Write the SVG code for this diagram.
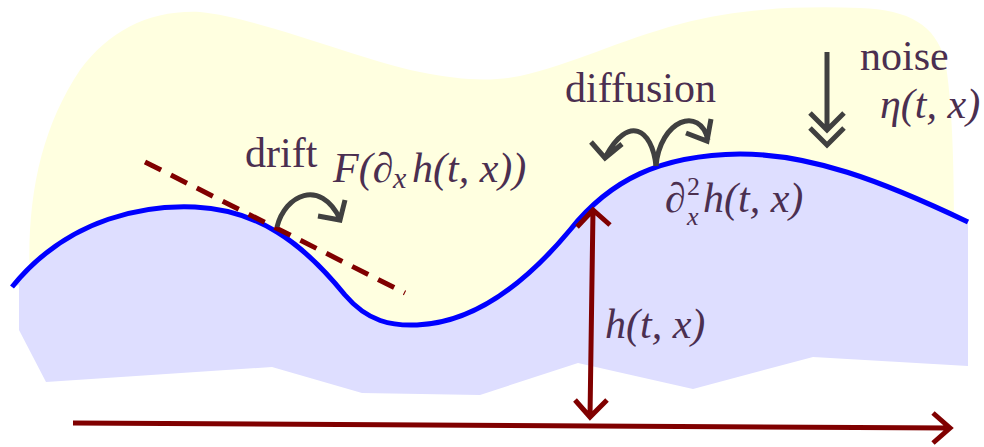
<svg xmlns="http://www.w3.org/2000/svg" width="984" height="447" viewBox="0 0 984 447">
<style>
.lbl{font-family:"Liberation Serif","DejaVu Serif",serif;font-size:42px;fill:#4b2f50}
.it{font-style:italic}
.gray{fill:none;stroke:#404040;stroke-width:5;stroke-linecap:butt;stroke-linejoin:miter}
.red{fill:none;stroke:#800000;stroke-width:5}
</style>
<rect width="984" height="447" fill="#ffffff"/>
<g id="background">
<path d="M30,285 C26,200 40,130 80,70 C110,30 150,10 200,12 C260,18 360,60 420,72 C460,80 490,82 520,76 C570,65 620,40 680,24 C740,8 800,6 860,8 C910,10 935,25 945,60 C952,100 954,160 954,230 L954,340 L30,340 Z" fill="#ffffe0"/>
<path d="M12,287 C70,215 150,205 195,207 C258,210 302,242 345,295 C368,322 392,326 417,325 C470,323 520,290 570,230 C610,180 660,155 740,154 C810,154 880,180 968,222 L968,366 L813,357 L693,389 L578,363 L480,395 L362,393 L272,367 L46,382 L19,330 L19,285 Z" fill="#dedeff"/>
</g>
<g id="surface">
<path d="M12,287 C70,215 150,205 195,207 C258,210 302,242 345,295 C368,322 392,326 417,325 C470,323 520,290 570,230 C610,180 660,155 740,154 C810,154 880,180 968,222" fill="none" stroke="#0000ff" stroke-width="5"/>
</g>
<g id="connectors">
<line id="tangent" x1="145" y1="162" x2="405" y2="293" stroke="#800000" stroke-width="5" stroke-dasharray="18,11"/>
<path id="drift-arrow" class="gray" d="M277,227 C285,195 320,178 340,219 M318,216 L340,220 L345,200"/>
<path id="diff-left" class="gray" d="M656,166 C652,128 628,115 606,156 M591,142 L605,158 L622,144"/>
<path id="diff-right" class="gray" d="M656,166 C660,120 700,105 708,140 M686,133 L707,141 L711,119"/>
<path id="noise-arrow" class="gray" d="M827,52 L827,130 M810,113 L827,130 L844,113 M810,128 L827,145 L844,128"/>
<path id="height-arrow" class="red" d="M593,210 L590,417 M577,227 L593,210 L610,225 M575,400 L590,417 L607,400"/>
<path id="axis-arrow" class="red" d="M73,423 L950,428 M933,413 L950,428 L933,443"/>
</g>
<g id="labels">
<text id="drift" class="lbl" x="245" y="167">drift</text>
<text id="drift-f" class="lbl it" x="333" y="182">F(<tspan font-style="normal">∂</tspan><tspan x="393" y="188" font-size="30">x</tspan><tspan x="412" y="182">h(t, x))</tspan></text>
<text id="diffusion" class="lbl" x="565" y="102">diffusion</text>
<text id="diff-term" class="lbl" x="665" y="212">∂<tspan x="687" y="195" font-size="26" font-style="normal">2</tspan><tspan x="687" y="225" font-size="26" font-style="italic">x</tspan><tspan x="703" y="212" font-style="italic">h(t, x)</tspan></text>
<text id="noise" class="lbl" x="860" y="70">noise</text>
<text id="eta" class="lbl it" x="880" y="118">η(t, x)</text>
<text id="height" class="lbl it" x="605" y="338">h(t, x)</text>
</g>
</svg>
